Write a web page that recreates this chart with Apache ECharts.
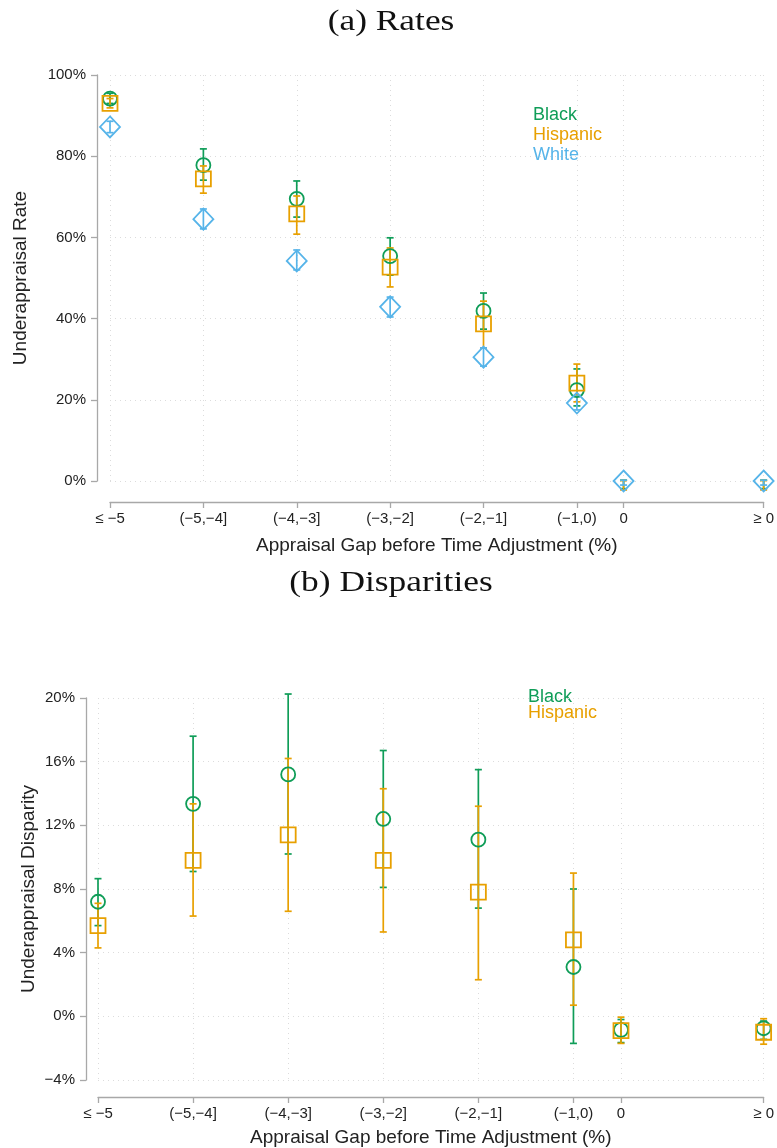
<!DOCTYPE html>
<html>
<head>
<meta charset="utf-8">
<script src="https://cdn.jsdelivr.net/npm/echarts@6/dist/echarts.min.js"></script>
<style>
html,body{margin:0;padding:0;background:#fff;}
#chart{width:777px;height:1148px;}
</style>
</head>
<body>
<div id="chart"></div>
<script>
// ---- categories / x positions ----
const categories = ['\u2264 \u22125', '(\u22125,\u22124]', '(\u22124,\u22123]', '(\u22123,\u22122]', '(\u22122,\u22121]', '(\u22121,0)', '0', '\u2265 0'];
const xPositions = [0, 1, 2, 3, 4, 5, 5.5, 7];

// ---- (a) Rates, percent ----
const blackRate   = [94.2, 77.8, 69.5, 55.4, 41.9, 22.4, -0.9, -0.9];
const blackRateLo = [93.0, 74.1, 65.0, 50.7, 37.4, 18.5, -1.9, -1.9];
const blackRateHi = [95.5, 81.8, 73.9, 59.9, 46.3, 27.6, 0.2, 0.2];
const hispRate    = [93.0, 74.4, 65.8, 52.7, 38.7, 24.1, -1.2, -1.2];
const hispRateLo  = [91.9, 70.9, 60.8, 47.8, 32.8, 19.5, -2.2, -2.2];
const hispRateHi  = [94.2, 77.6, 70.2, 57.4, 44.3, 28.8, 0.1, 0.1];
const whiteRate   = [87.2, 64.5, 54.2, 42.9, 30.5, 19.2, 0.0, 0.0];
const whiteRateLo = [85.8, 62.1, 52.0, 40.4, 28.3, 17.5, -1.0, -1.0];
const whiteRateHi = [88.6, 67.0, 56.9, 45.3, 32.8, 20.9, 0.2, 0.2];

// ---- (b) Disparities, percent ----
const blackDisp   = [7.2, 13.35, 15.2, 12.4, 11.1, 3.1, -0.85, -0.75];
const blackDispLo = [5.7, 9.1, 10.2, 8.1, 6.8, -1.7, -1.65, -1.45];
const blackDispHi = [8.65, 17.6, 20.25, 16.7, 15.5, 8.0, -0.2, -0.3];
const hispDisp    = [5.7, 9.8, 11.4, 9.8, 7.8, 4.8, -0.9, -1.0];
const hispDispLo  = [4.3, 6.3, 6.6, 5.3, 2.3, 0.7, -1.7, -1.75];
const hispDispHi  = [7.1, 13.35, 16.2, 14.3, 13.2, 9.0, -0.05, -0.15];

const rateTicks = [0, 20, 40, 60, 80, 100];
const dispTicks = [-4, 0, 4, 8, 12, 16, 20];

const GREEN = '#0f9d58';
const ORANGE = '#e8a000';
const BLUE = '#56b4e9';
const SANS = '"Liberation Sans", Arial, Helvetica, sans-serif';
const SERIF = '"Liberation Serif", "DejaVu Serif", serif';

function pts(vals) { return vals.map((v, i) => [xPositions[i], v]); }
function ci(lo, hi) { return lo.map((v, i) => [xPositions[i], v, hi[i]]); }
function fmtPct(v) { return (v < 0 ? '\u2212' + Math.abs(v) : v) + '%'; }
function catLabel(v) {
  const i = xPositions.indexOf(v);
  return i >= 0 ? categories[i] : '';
}

function errSeries(idx, data, color) {
  return {
    type: 'custom', xAxisIndex: idx, yAxisIndex: idx, data: data,
    encode: { x: 0, y: [1, 2] }, silent: true, z: 2,
    renderItem: function (params, api) {
      const x = api.value(0);
      const p1 = api.coord([x, api.value(1)]);
      const p2 = api.coord([x, api.value(2)]);
      const w = 3.5;
      const st = { stroke: color, lineWidth: 1.7 };
      return { type: 'group', children: [
        { type: 'line', shape: { x1: p1[0], y1: p1[1], x2: p2[0], y2: p2[1] }, style: st },
        { type: 'line', shape: { x1: p1[0] - w, y1: p1[1], x2: p1[0] + w, y2: p1[1] }, style: st },
        { type: 'line', shape: { x1: p2[0] - w, y1: p2[1], x2: p2[0] + w, y2: p2[1] }, style: st }
      ]};
    }
  };
}
function markSeries(idx, data, color, symbol, size) {
  return {
    type: 'scatter', xAxisIndex: idx, yAxisIndex: idx, data: data,
    symbol: symbol, symbolSize: size, z: 3, silent: true,
    itemStyle: { color: 'rgba(0,0,0,0)', borderColor: color, borderWidth: 1.8, opacity: 1 }
  };
}

function xAxisDef(idx, nameGap, offset) {
  return {
    type: 'value', gridIndex: idx, min: 0, max: 7, offset: offset,
    name: 'Appraisal Gap before Time Adjustment (%)', nameLocation: 'middle', nameGap: nameGap,
    nameMoveOverlap: false,
    nameTextStyle: { fontFamily: SANS, fontSize: 19, color: '#222' },
    axisLine: { show: true, onZero: false, lineStyle: { color: '#a8a8a8', width: 1.3 } },
    axisTick: { show: true, length: 6, customValues: xPositions, lineStyle: { color: '#a8a8a8', width: 1.3 } },
    axisLabel: { customValues: xPositions, formatter: catLabel, fontFamily: SANS, fontSize: 15, color: '#222', margin: 9 },
    splitLine: { show: true, lineStyle: { color: '#dcdcdc', type: [1, 4], width: 1 } }
  };
}
function yAxisDef(idx, name, min, max, interval, nameGap, offset) {
  return {
    type: 'value', gridIndex: idx, min: min, max: max, interval: interval, offset: offset,
    name: name, nameLocation: 'middle', nameGap: nameGap, nameMoveOverlap: false,
    nameTextStyle: { fontFamily: SANS, fontSize: 19, color: '#222' },
    axisLine: { show: true, onZero: false, lineStyle: { color: '#a8a8a8', width: 1.3 } },
    axisTick: { show: true, length: 6, lineStyle: { color: '#a8a8a8', width: 1.3 } },
    axisLabel: { formatter: fmtPct, fontFamily: SANS, fontSize: 15, color: '#222', margin: 11 },
    splitLine: { show: true, lineStyle: { color: '#dcdcdc', type: [1, 4], width: 1 } }
  };
}

const chart = echarts.init(document.getElementById('chart'), null, { renderer: 'canvas' });
chart.setOption({
  backgroundColor: '#ffffff',
  animation: false,
  grid: [
    { left: 110, right: 11, top: 75, height: 406 },
    { left: 98, right: 12, top: 698, height: 382 }
  ],
  xAxis: [ xAxisDef(0, 34, 21), xAxisDef(1, 31, 17) ],
  yAxis: [
    yAxisDef(0, 'Underappraisal Rate', rateTicks[0], rateTicks[rateTicks.length - 1], 20, 67, 13),
    yAxisDef(1, 'Underappraisal Disparity', dispTicks[0], dispTicks[dispTicks.length - 1], 4, 48, 12)
  ],
  graphic: [
    { type: 'text', x: 391, y: 22, scaleX: 1.22, scaleY: 1,
      style: { text: '(a) Rates', fill: '#111', font: '29px ' + SERIF, align: 'center', verticalAlign: 'middle' } },
    { type: 'text', x: 391, y: 583, scaleX: 1.22, scaleY: 1,
      style: { text: '(b) Disparities', fill: '#111', font: '29px ' + SERIF, align: 'center', verticalAlign: 'middle' } },
    { type: 'text', left: 533, top: 106, style: { text: 'Black', fill: GREEN, font: '18px ' + SANS } },
    { type: 'text', left: 533, top: 126, style: { text: 'Hispanic', fill: ORANGE, font: '18px ' + SANS } },
    { type: 'text', left: 533, top: 146, style: { text: 'White', fill: BLUE, font: '18px ' + SANS } },
    { type: 'text', left: 528, top: 688, style: { text: 'Black', fill: GREEN, font: '18px ' + SANS } },
    { type: 'text', left: 528, top: 704, style: { text: 'Hispanic', fill: ORANGE, font: '18px ' + SANS } }
  ],
  series: [
    errSeries(0, ci(blackRateLo, blackRateHi), GREEN),
    errSeries(0, ci(hispRateLo, hispRateHi), ORANGE),
    errSeries(0, ci(whiteRateLo, whiteRateHi), BLUE),
    markSeries(0, pts(blackRate), GREEN, 'circle', 14),
    markSeries(0, pts(hispRate), ORANGE, 'rect', 15),
    markSeries(0, pts(whiteRate), BLUE, 'diamond', [20, 21]),
    errSeries(1, ci(blackDispLo, blackDispHi), GREEN),
    errSeries(1, ci(hispDispLo, hispDispHi), ORANGE),
    markSeries(1, pts(blackDisp), GREEN, 'circle', 14),
    markSeries(1, pts(hispDisp), ORANGE, 'rect', 15)
  ]
});
</script>
</body>
</html>
